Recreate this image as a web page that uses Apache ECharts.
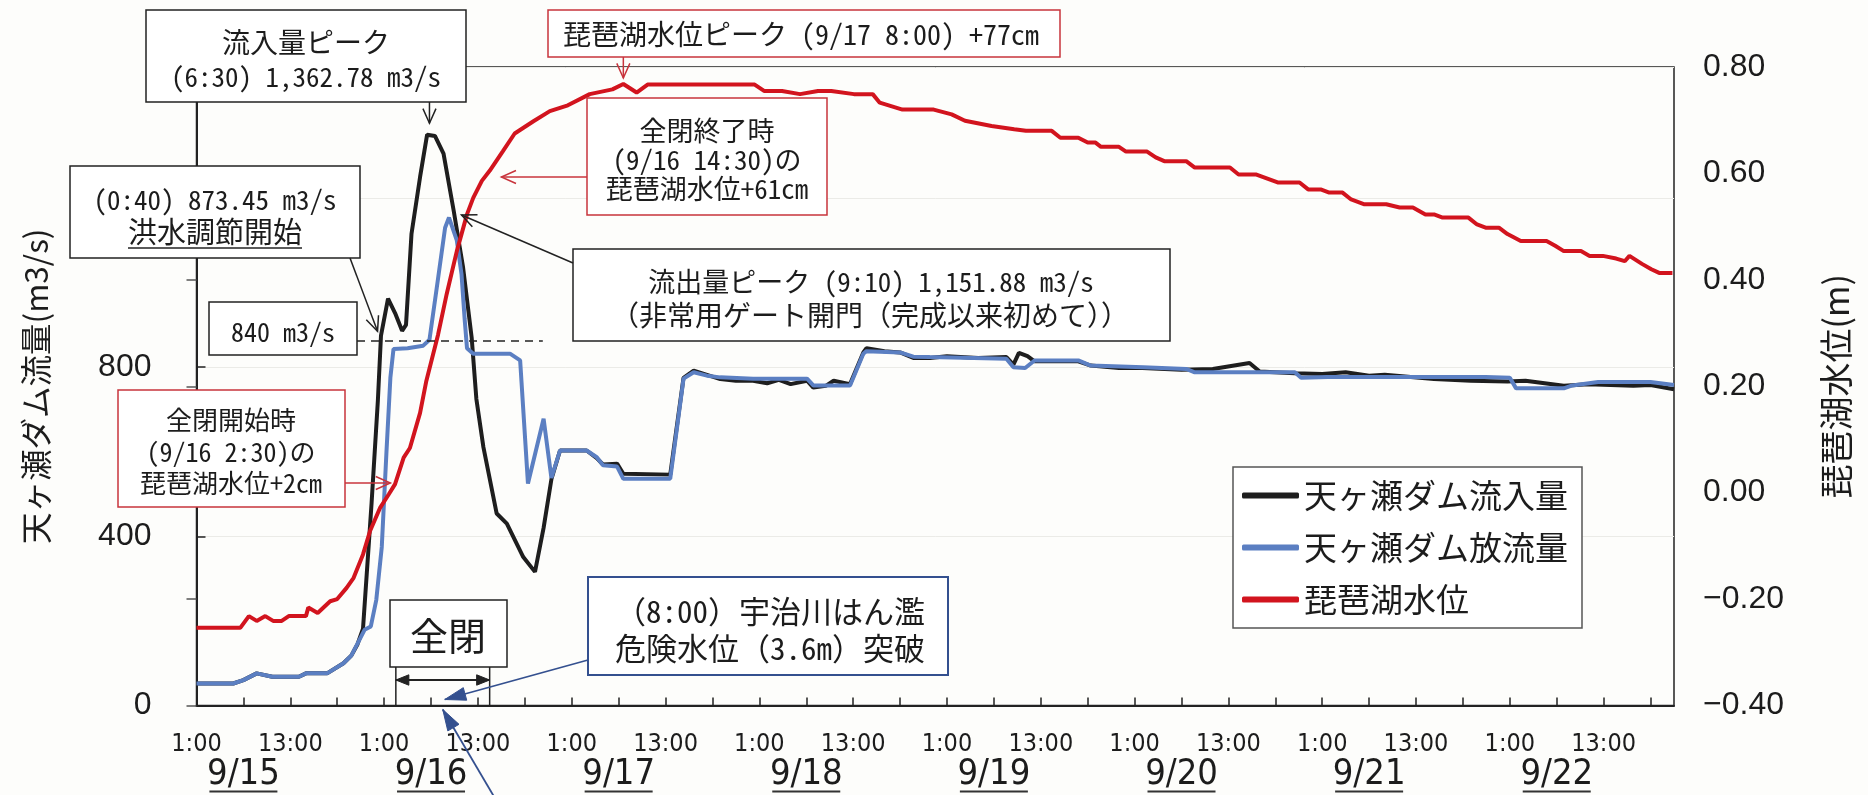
<!DOCTYPE html>
<html><head><meta charset="utf-8">
<script src="https://cdn.jsdelivr.net/npm/echarts@6/dist/echarts.min.js"></script>
<style>html,body{margin:0;padding:0;background:#fdfdfb}#c{width:1868px;height:795px}</style>
</head><body><div id="c"></div>
<script>
// ---------- data (hours since 9/15 1:00) ----------
const dateLabels = ['9/15','9/16','9/17','9/18','9/19','9/20','9/21','9/22'];
const leftTickLabels = [0, 400, 800];
const seriesNames = ['天ヶ瀬ダム流入量','天ヶ瀬ダム放流量','琵琶湖水位'];
const inflow = [[0,52],[4.7,52],[6,60],[7.7,76],[9.7,68],[13.1,68],[14,76],[16.7,76],[18.8,100],[19.8,118],[20.6,145],[21.3,182],[22.4,480],[23.2,721],[23.6,875],[24.5,962],[25.4,928],[26.3,886],[26.8,900],[27.5,1115],[28.6,1250],[29.5,1350],[30.5,1347],[31.6,1305],[32.9,1170],[34.1,1036],[35.2,870],[35.8,725],[36.7,611],[38.4,454],[39.7,430],[41.8,351],[43.3,316],[44.4,420],[45.4,535],[46.5,603],[49.9,603],[51.2,585],[52,570],[53.8,572],[54.6,548],[60.6,546],[62.3,775],[63.6,792],[65.3,782],[67,772],[69,768],[71.2,768],[73,762],[74.5,770],[76,760],[78.1,768],[78.9,752],[80.5,756],[81.5,768],[83.6,760],[85.3,835],[85.7,845],[88,838],[90,835],[91.7,822],[93.8,822],[96,826],[100,822],[103.6,824],[104.5,806],[105.2,834],[106.3,826],[107.2,814],[112.8,814],[114.4,804],[118,798],[121,798],[126,794],[130,796],[134.7,810],[136,790],[140.5,786],[144,784],[147,788],[150,780],[152,782],[158.3,772],[163,768],[167.7,766],[170,768],[174.9,756],[178,760],[183.8,756],[186,758],[189,748]];
const outflow = [[0,52],[4.7,52],[6,60],[7.7,76],[9.7,68],[13.1,68],[14,76],[16.7,76],[18.8,100],[19.8,118],[21.5,179],[22.3,187],[23,250],[23.7,375],[24.3,600],[24.8,775],[25.2,843],[27,845],[29,851],[29.8,865],[30.9,1010],[31.8,1130],[32.3,1154],[33.3,1100],[33.9,1020],[34.3,914],[34.6,845],[35.4,832],[40.1,832],[41.4,816],[42.4,525],[44.4,678],[45.4,538],[46.5,603],[49.9,603],[51.2,587],[52,568],[53.8,565],[54.6,536],[60.6,536],[62.3,773],[63.6,788],[65.3,780],[67,776],[71.2,773],[78.1,773],[78.9,757],[83.6,757],[85.3,832],[85.7,838],[90,835],[91.7,825],[93.8,824],[103.6,820],[104.5,800],[104.7,796],[106,798],[107.2,816],[112.8,816],[114.4,804],[121.1,800],[126.6,796],[127.7,788],[140.5,788],[141.3,775],[144.7,777],[164.9,777],[168,775],[168.8,750],[174.9,750],[176,757],[179.3,765],[186,765],[189,758]];
const lakeLevel = [[0,-0.254],[5.6,-0.254],[6.7,-0.232],[7.7,-0.241],[8.8,-0.232],[9.8,-0.241],[10.9,-0.241],[11.8,-0.232],[14.0,-0.232],[14.3,-0.216],[15.5,-0.226],[17.1,-0.204],[18,-0.2],[19.2,-0.179],[20.1,-0.16],[21.3,-0.116],[22.2,-0.072],[23.5,-0.028],[24.6,-0.003],[25.4,0.016],[26.5,0.066],[27.3,0.084],[28.6,0.15],[29.4,0.21],[30.9,0.297],[32,0.373],[33.3,0.454],[34.6,0.523],[35.4,0.554],[36.5,0.586],[37.5,0.605],[39.2,0.642],[40.7,0.675],[43.1,0.698],[45.2,0.717],[47.5,0.728],[50.3,0.749],[53.2,0.758],[54.6,0.768],[56.3,0.752],[57.7,0.767],[71.4,0.767],[72.6,0.755],[74.9,0.755],[77.2,0.749],[79.5,0.755],[81.2,0.755],[84.1,0.749],[86.5,0.749],[87.4,0.733],[90.3,0.72],[94.3,0.72],[96.6,0.711],[98.3,0.699],[101.7,0.689],[104.6,0.683],[106.1,0.68],[109.4,0.68],[110.5,0.667],[112.8,0.667],[114,0.658],[115,0.658],[115.7,0.65],[118,0.65],[118.9,0.641],[121.6,0.641],[122.7,0.63],[123.8,0.623],[126.6,0.623],[127.7,0.611],[132.2,0.611],[133.3,0.598],[135.5,0.598],[138.3,0.583],[141.1,0.583],[142.2,0.57],[143.8,0.57],[144.9,0.564],[146.6,0.564],[147.7,0.551],[149.4,0.542],[152.2,0.542],[153.9,0.536],[155.6,0.536],[157.2,0.523],[158.3,0.523],[159.4,0.517],[162.7,0.517],[163.8,0.504],[164.9,0.498],[166.6,0.498],[167.7,0.486],[169.4,0.473],[172.7,0.473],[173.8,0.464],[174.9,0.454],[177.1,0.454],[178.2,0.445],[179.9,0.445],[181.6,0.44],[182.7,0.435],[183.3,0.445],[184.9,0.43],[186.1,0.42],[187.1,0.413],[188.8,0.413]];
// events (hours): flood-control start 0:40 9/16, full-close 2:30-14:30 9/16, Uji 8:00 9/16
const eventHours = {controlStart: 23.67, closeStart: 25.5, closeEnd: 37.5, inflowPeak: 29.5, outflowPeak: 32.17, lakePeak: 54.6, uji: 31};

// ---------- styles ----------
const CJK = "'Noto Sans CJK JP', sans-serif";
const MONO = "'Noto Sans Mono CJK JP', 'Noto Sans CJK JP', monospace";
const NUM = "'Liberation Sans', Arial, sans-serif";
const NARROW = "'Liberation Sans Narrow', 'DejaVu Sans Condensed', 'Liberation Sans', sans-serif";
const INK = '#1c1c1c';
const RED = '#d2141e', BLUE = '#5b7fc2', BLACK = '#1e1e1e', BOXRED = '#c8343c', NAVY = '#34508f';

const chart = echarts.init(document.getElementById('c'), null, {renderer: 'canvas'});
const option = {
  animation: false,
  backgroundColor: '#fdfdfb',
  grid: {left: 196.5, right: 194, top: 67, bottom: 89.5, show: true, borderColor: '#222', borderWidth: 1.5, containLabel: false, outerBoundsMode: 'none'},
  legend: {
    orient: 'vertical', left: 1233, top: 467, data: seriesNames,
    icon: 'roundRect', itemWidth: 57, itemHeight: 6, itemGap: 19,
    padding: [12, 14, 12, 9],
    backgroundColor: '#fff', borderColor: '#555', borderWidth: 1.5,
    textStyle: {fontSize: 33, fontFamily: CJK, color: INK}
  },
  xAxis: [{
    type: 'value', min: 0, max: 189, interval: 6,
    axisLine: {show: true, lineStyle: {color: '#222', width: 2}},
    axisTick: {show: true, inside: true, length: 8, lineStyle: {color: '#222', width: 1.5}},
    splitLine: {show: false},
    axisLabel: {
      show: true, margin: 26, fontSize: 25, fontFamily: NARROW, color: INK, hideOverlap: false,
      showMinLabel: true, showMaxLabel: false,
      formatter: v => (v % 24 === 0 ? '1:00' : (v % 24 === 12 ? '13:00' : ''))
    }
  }, {
    type: 'value', min: 0, max: 189, interval: 6, position: 'bottom',
    axisLine: {show: false}, axisTick: {show: false}, splitLine: {show: false},
    axisLabel: {
      show: true, margin: 54, hideOverlap: false, showMinLabel: true, showMaxLabel: false,
      formatter: v => (v % 24 === 6 ? '{d|' + dateLabels[Math.round((v - 6) / 24)] + '}\n{u| }' : ''),
      rich: {
        d: {fontSize: 36, fontFamily: NARROW, color: INK, lineHeight: 30, align: 'center'},
        u: {width: 68, height: 2, lineHeight: 4, fontSize: 2, backgroundColor: '#333', align: 'center'}
      }
    }
  }],
  yAxis: [{
    type: 'value', position: 'left', min: 0, max: 1510, interval: 400,
    name: '天ヶ瀬ダム流量(m3/s)', nameLocation: 'middle', nameGap: 145, nameRotate: 90,
    nameTextStyle: {fontSize: 31.5, fontFamily: CJK, color: INK},
    axisLine: {show: true, lineStyle: {color: '#222', width: 2}},
    axisTick: {show: true, inside: true, length: 9, lineStyle: {color: '#222', width: 1.5}},
    splitLine: {show: true, lineStyle: {color: '#ebebe7', width: 1}},
    axisLabel: {margin: 45, align: 'right', fontSize: 32, fontFamily: NUM, color: INK,
      formatter: v => (leftTickLabels.indexOf(v) >= 0 ? String(v) : '')}
  }, {
    type: 'value', position: 'right', min: -0.4, max: 0.8, interval: 0.2,
    name: '琵琶湖水位(m)', nameLocation: 'middle', nameGap: 145, nameRotate: 90,
    nameTextStyle: {fontSize: 34, fontFamily: CJK, color: INK},
    axisLine: {show: true, lineStyle: {color: '#222', width: 2}},
    axisTick: {show: true, inside: true, length: 10, lineStyle: {color: '#555', width: 1.5}},
    splitLine: {show: false},
    axisLabel: {margin: 29, align: 'left', fontSize: 32, fontFamily: NUM, color: INK,
      formatter: v => (Math.abs(v) < 1e-9 ? '0.00' : (v < 0 ? '\u2212' + Math.abs(v).toFixed(2) : v.toFixed(2)))}
  }],
  series: [
    {name: seriesNames[0], type: 'line', xAxisIndex: 0, yAxisIndex: 0, data: inflow, symbol: 'none', lineStyle: {color: BLACK, width: 4}, itemStyle: {color: BLACK}, z: 2},
    {name: seriesNames[1], type: 'line', xAxisIndex: 0, yAxisIndex: 0, data: outflow, symbol: 'none', lineStyle: {color: BLUE, width: 4}, itemStyle: {color: BLUE}, z: 3},
    {name: seriesNames[2], type: 'line', xAxisIndex: 0, yAxisIndex: 1, data: lakeLevel, symbol: 'none', lineStyle: {color: RED, width: 4}, itemStyle: {color: RED}, z: 4}
  ]
};
chart.setOption(option);

// ---------- annotations ----------
const P = (h, v, yi) => chart.convertToPixel({xAxisIndex: 0, yAxisIndex: yi || 0}, [h, v]);
const G = [];
function rect(x, y, w, h, stroke, lw) {
  G.push({type: 'rect', z: 100, shape: {x: x, y: y, width: w, height: h}, style: {fill: '#fff', stroke: stroke, lineWidth: lw || 1.5}});
}
function txt(x, y, t, size, fam, align) {
  G.push({type: 'text', z: 101, x: x, y: y, style: {text: t, fontSize: size, fontFamily: fam || MONO, fill: INK, align: align || 'center', verticalAlign: 'middle'}});
}
function line(x1, y1, x2, y2, color, lw, dash) {
  G.push({type: 'line', z: 102, shape: {x1: x1, y1: y1, x2: x2, y2: y2}, style: {stroke: color, lineWidth: lw || 1.5, lineDash: dash || null}});
}
function head(x1, y1, x2, y2, len, ang) {
  const a = Math.atan2(y2 - y1, x2 - x1);
  return [[x2 - len * Math.cos(a - ang), y2 - len * Math.sin(a - ang)], [x2, y2], [x2 - len * Math.cos(a + ang), y2 - len * Math.sin(a + ang)]];
}
function openArrow(x1, y1, x2, y2, color, lw) {
  line(x1, y1, x2, y2, color, lw || 1.5);
  G.push({type: 'polyline', z: 102, shape: {points: head(x1, y1, x2, y2, 16, 0.42)}, style: {stroke: color, lineWidth: lw || 1.5, fill: null}});
}
function solidArrow(x1, y1, x2, y2, color, lw, len, ang) {
  line(x1, y1, x2, y2, color, lw || 1.5);
  G.push({type: 'polygon', z: 102, shape: {points: head(x1, y1, x2, y2, len || 16, ang || 0.35)}, style: {fill: color, stroke: color, lineWidth: 1}});
}

// inflow peak box
rect(146, 10, 320, 92, '#222');
txt(306, 42, '流入量ピーク', 28, CJK);
txt(306, 77, '(6:30) 1,362.78 m3/s', 27);
let t = P(eventHours.inflowPeak + 0.3, 1362.78);
openArrow(t[0], 102, t[0], t[1] - 6, '#222');

// lake peak box
rect(548, 10, 512, 47, BOXRED);
txt(801, 34, '琵琶湖水位ピーク (9/17 8:00) +77cm', 28);
t = P(eventHours.lakePeak, 0.768, 1);
openArrow(t[0], 57, t[0], t[1] - 6, BOXRED);

// full close end box
rect(587, 98, 240, 117, BOXRED);
txt(707, 131, '全閉終了時', 27, CJK);
txt(707, 160, '(9/16 14:30)の', 27);
txt(707, 189, '琵琶湖水位+61cm', 27);
t = P(39, 0.6, 1);
openArrow(587, 177, t[0], 177, BOXRED);

// flood control start box
rect(70, 166, 290, 92, '#222');
txt(215, 200, '(0:40) 873.45 m3/s', 27);
txt(215, 232, '洪水調節開始', 29, CJK);
line(128, 248, 302, 248, '#222', 1.5);
t = P(eventHours.controlStart, 873.45);
openArrow(350, 258, t[0] - 4, t[1] - 5, '#222');

// 840 box
rect(209, 302, 148, 53, '#222');
txt(283, 332, '840 m3/s', 26);
t = P(44.3, 840);
line(357, 341, t[0], 341, '#222', 1.5, [8, 6]);

// outflow peak box
rect(573, 249, 597, 92, '#222');
txt(871, 282, '流出量ピーク (9:10) 1,151.88 m3/s', 27);
txt(870, 315, '（非常用ゲート開門（完成以来初めて））', 28);
t = P(33.9, 1160);
openArrow(573, 263, t[0], t[1], '#222');

// full close start box
rect(118, 390, 227, 117, BOXRED);
txt(231, 420, '全閉開始時', 26, CJK);
txt(231, 452, '(9/16 2:30)の', 26);
txt(231, 483, '琵琶湖水位+2cm', 26);
t = P(24.8, 0.02, 1);
openArrow(345, 483, t[0], 483, BOXRED);

// full close span box
rect(390, 600, 117, 67, '#222');
txt(448, 636, '全閉', 38, CJK);
const c0 = P(eventHours.closeStart, 0), c1 = P(eventHours.closeEnd, 0);
line(c0[0], 667, c0[0], c0[1], '#222', 1.5);
line(c1[0], 667, c1[0], c1[1], '#222', 1.5);
solidArrow(c0[0] + 14, 680, c1[0], 680, '#222', 2, 14, 0.38);
solidArrow(c1[0] - 14, 680, c0[0], 680, '#222', 2, 14, 0.38);

// Uji river box
rect(588, 577, 360, 98, NAVY, 2);
txt(925, 611, '（8:00）宇治川はん濫', 31, MONO, 'right');
txt(925, 648, '危険水位（3.6m）突破', 31, MONO, 'right');
t = P(eventHours.uji + 0.5, 0);
solidArrow(588, 660, t[0] + 2, t[1] - 6, NAVY, 1.8, 22, 0.3);
solidArrow(496, 800, t[0], t[1] + 4, NAVY, 1.8, 22, 0.3);

chart.setOption({graphic: G});
</script>
</body></html>
